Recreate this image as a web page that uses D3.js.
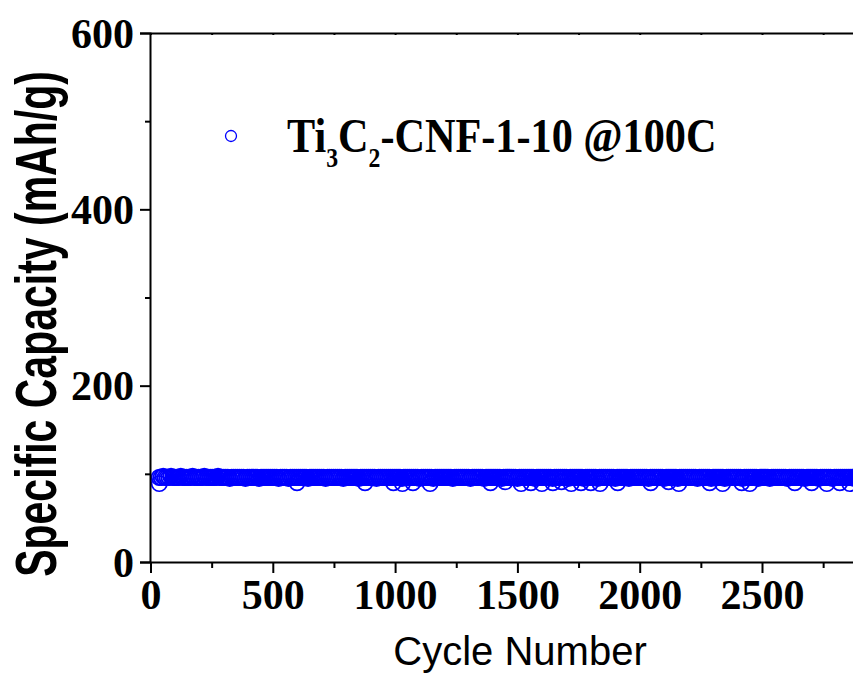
<!DOCTYPE html>
<html><head><meta charset="utf-8">
<script src="https://cdn.jsdelivr.net/npm/d3@7"></script>
<style>body{margin:0;background:#fff;overflow:hidden}</style></head>
<body><svg id="c" width="853" height="674"></svg>
<script>
// ---- data ----
const mainStartCycle = 36, mainStepCycles = 8;
const mainCapacity = [
96,96,97,96,96,96,97,96,96,96,96,97,96,96,96,96,96,97,96,96,
96,96,96,97,96,96,96,96,96,96,97,96,96,96,96,96,95,96,96,96,
96,96,96,96,95,96,96,96,96,96,96,95,96,96,96,96,96,96,96,96,
96,95,96,96,96,96,95,96,96,96,96,96,96,96,96,96,95,96,96,96,
96,96,96,96,96,95,96,96,96,96,96,96,96,96,95,96,96,96,96,96,
96,96,95,96,96,96,96,96,96,96,96,95,96,96,96,96,96,96,96,96,
96,96,96,96,95,96,96,96,96,96,96,96,96,95,96,96,96,96,96,96,
95,96,96,96,96,96,96,96,96,96,95,96,96,96,96,96,96,96,96,95,
96,96,96,96,96,96,95,96,96,96,96,96,96,96,96,95,96,96,96,96,
96,96,96,95,96,96,96,96,96,96,96,96,95,96,96,96,96,96,96,96,
96,95,96,96,96,96,96,96,96,95,96,96,96,96,96,96,96,95,96,96,
96,96,96,96,95,96,96,96,96,96,96,96,96,95,96,96,96,96,96,96,
95,96,96,96,96,96,96,96,96,96,95,96,96,96,96,96,96,96,95,96,
96,96,96,96,96,95,96,96,96,96,96,96,96,96,96,95,96,96,96,96,
96,96,95,96,96,96,96,96,96,95,96,96,96,96,96,96,96,96,95,96,
96,96,96,96,96,96,95,96,96,96,96,96,95,96,96,96,96,96,96,96,
96,95,96,96,96,96,96,96,96,96,95,96,96,96,96,96,96,95,96,96,
96,96,96,96,95,96,96,96,96,96,96,96,96,96,96,95,96,96,96,96];
const dipCycles = [36,599,877,993,1030,1073,1143,1390,1450,1515,1555,1600,1645,1680,1720,1760,1800,1838,1910,2045,2118,2160,2286,2339,2417,2450,2634,2703,2765,2818,2859];
const dipCapacity = [89,90,90,90,89,90,89,90,91,89,90,89,90,91,89,90,90,89,90,90,91,89,90,89,90,89,90,90,89,90,89];
const yMajor = [0,200,400,600], yMinor = [100,300,500];
const xMajor = [0,500,1000,1500,2000,2500], xMinor = [250,750,1250,1750,2250,2750];
const yTitle = "Specific Capacity (mAh/g)", xTitle = "Cycle Number";

// ---- chart ----
const svg = d3.select("#c");
const x = d3.scaleLinear().domain([0,3000]).range([150.5, 150.5 + 3000*0.2446]);
const y = d3.scaleLinear().domain([0,600]).range([562,33]);
const blue = "#0000ff";

const mainPts = mainCapacity.map((v,i)=>({c: mainStartCycle + i*mainStepCycles, v}));
const dipPts = dipCycles.map((c,i)=>({c, v: dipCapacity[i]}));

const pts = svg.append("g");
pts.selectAll("circle.m").data(mainPts).join("circle").attr("class","m")
  .attr("cx",d=>x(d.c)).attr("cy",d=>y(d.v)).attr("r",7.7)
  .attr("fill","none").attr("stroke",blue).attr("stroke-width",1.9);
pts.selectAll("circle.d").data(dipPts).join("circle").attr("class","d")
  .attr("cx",d=>x(d.c)).attr("cy",d=>y(d.v)).attr("r",7.7)
  .attr("fill","none").attr("stroke",blue).attr("stroke-width",1.7);

const tickFont = g => g.selectAll("text").attr("font-family","'Liberation Serif','Times New Roman',serif")
  .attr("font-weight","bold").attr("font-size",42).attr("fill","#000");

// left axis
const gl = svg.append("g").attr("transform","translate(150,0)");
gl.call(d3.axisLeft(y).tickValues(yMajor).tickSize(10).tickPadding(6).tickFormat(d3.format("d")));
gl.call(tickFont);
gl.selectAll("text").attr("dy","0.34em");
gl.selectAll("line,path").attr("stroke","#000").attr("stroke-width",2);
const glm = svg.append("g").attr("transform","translate(150,0)");
glm.call(d3.axisLeft(y).tickValues(yMinor).tickSize(5).tickFormat(""));
glm.selectAll("line").attr("stroke","#000").attr("stroke-width",2);
glm.select("path").remove();

// bottom axis
const gb = svg.append("g").attr("transform","translate(0,562)");
gb.call(d3.axisBottom(x).tickValues(xMajor).tickSize(11).tickPadding(6).tickFormat(d3.format("d")));
gb.call(tickFont);
gb.selectAll("text").attr("dy","0.72em");
gb.selectAll("line,path").attr("stroke","#000").attr("stroke-width",2);
const gbm = svg.append("g").attr("transform","translate(0,562)");
gbm.call(d3.axisBottom(x).tickValues(xMinor).tickSize(6).tickFormat(""));
gbm.selectAll("line").attr("stroke","#000").attr("stroke-width",2);
gbm.select("path").remove();

// top axis
const gt = svg.append("g").attr("transform","translate(0,33)");
gt.call(d3.axisTop(x).tickValues(xMinor.concat(xMajor)).tickSize(-2).tickFormat(""));
gt.selectAll("line,path").attr("stroke","#000").attr("stroke-width",2);

// titles
svg.append("text").attr("transform","translate(56,324) rotate(-90) scale(1,1.42)")
  .attr("text-anchor","middle").attr("font-family","'Liberation Sans',Arial,sans-serif")
  .attr("font-weight","bold").attr("font-size",41).text(yTitle);
svg.append("text").attr("x",520).attr("y",665).attr("text-anchor","middle")
  .attr("font-family","'Liberation Sans',Arial,sans-serif").attr("font-size",40).text(xTitle);

// legend
svg.append("circle").attr("cx",231).attr("cy",136).attr("r",5.5)
  .attr("fill","none").attr("stroke",blue).attr("stroke-width",1.3);
const lg = svg.append("g").attr("transform","translate(287,152) scale(0.88,1)");
const lt = lg.append("text").attr("font-family","'Liberation Serif','Times New Roman',serif")
  .attr("font-weight","bold").attr("font-size",48);
lt.append("tspan").text("Ti");
lt.append("tspan").attr("font-size",27).attr("dy",15).text("3");
lt.append("tspan").attr("dy",-15).text("C");
lt.append("tspan").attr("font-size",27).attr("dy",15).text("2");
lt.append("tspan").attr("dy",-15).text("-CNF-1-10 @100C");
</script></body></html>
